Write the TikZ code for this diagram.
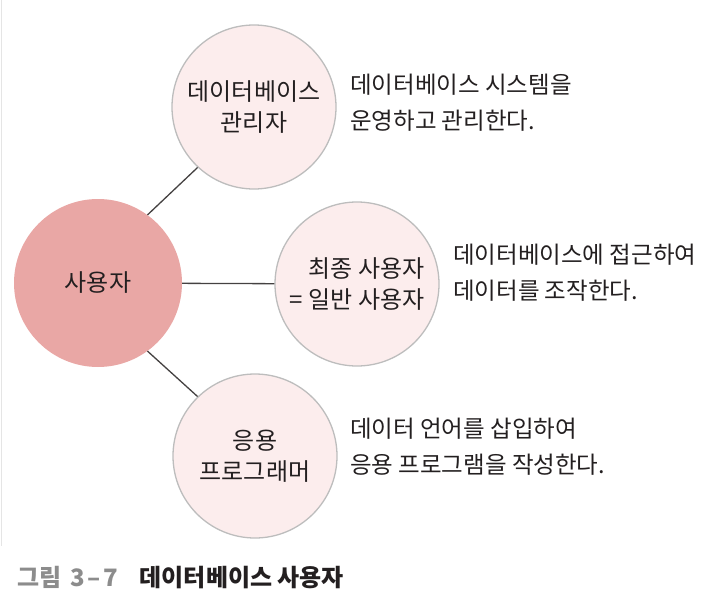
\documentclass[tikz,border=0pt]{standalone}
\usepackage{fontspec}
\newfontfamily\kr{Noto Sans CJK KR}
\definecolor{userpink}{HTML}{E9A7A5}
\definecolor{rolepink}{HTML}{FCEDED}
\definecolor{rolerim}{HTML}{BDBDBD}
\definecolor{inkgray}{HTML}{231F20}
\definecolor{capgray}{HTML}{8C8C8C}
\begin{document}
\begin{tikzpicture}[x = 1pt, y = -1pt,
  user/.style = {circle, fill = userpink, minimum size = 168pt, inner sep = 0pt, font = \kr\fontsize{24}{30}\selectfont, text = inkgray},
  role/.style = {circle, draw = rolerim, line width = 1.3pt, fill = rolepink, minimum size = 164pt, inner sep = 0pt, font = \kr\fontsize{24}{31}\selectfont, text = inkgray},
  note/.style = {anchor = west, align = left, inner sep = 0pt, font = \kr\fontsize{23.5}{36}\selectfont, text = inkgray}]
				\tikzstyle{link}=[draw = inkgray!85, line width = 1.3pt]
				\useasboundingbox (0,0) rectangle (719,594);
				\draw[black!10, line width = 1pt] (1.5,0) -- (1.5,546);
				\node (user) at (98, 283) [user] {사용자};
				\node (dba) at (254, 107) [role, align = center] {데이터베이스\\관리자};
				\node (enduser) at (357, 284) [role, align = right] {최종 사용자\\= 일반 사용자};
				\node (prog) at (255, 456) [role, align = center] {응용\\프로그래머};
				\draw[link] (user.54) -- (dba.227);
				\draw[link] (user) -- (enduser);
				\draw[link] (user.-54) -- (prog.134);
				\node (dbanote) at (350, 103) [note] {데이터베이스 시스템을\\운영하고 관리한다.};
				\node (endnote) at (453, 273) [note] {데이터베이스에 접근하여\\데이터를 조작한다.};
				\node (prognote) at (350, 447) [note] {데이터 언어를 삽입하여\\응용 프로그램을 작성한다.};
				\node (caption) at (17, 578) [anchor = west, inner sep = 0pt, font = \kr\bfseries\fontsize{24}{26}\selectfont, text = inkgray] {{\color{capgray}그림\hspace{0.4em}3\hspace{0.1em}–\hspace{0.1em}7}\hspace{0.9em}데이터베이스 사용자};
				\end{tikzpicture}
\end{document}
